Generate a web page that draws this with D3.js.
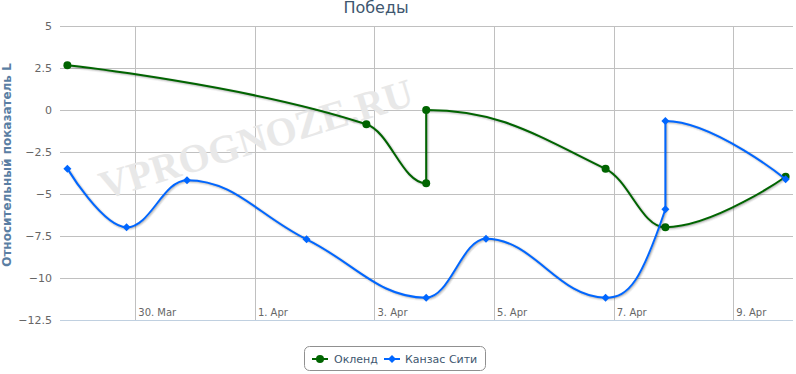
<!DOCTYPE html>
<html><head><meta charset="utf-8">
<script src="https://cdn.jsdelivr.net/npm/d3@7"></script>
<style>body{margin:0;background:#fff}svg{display:block;font-family:"DejaVu Sans",Verdana,sans-serif}</style>
</head><body><svg id="c" width="796" height="374"></svg>
<script>
const title = "Победы";
const yTitle = "Относительный показатель L";
const seriesNames = ["Окленд", "Канзас Сити"];
const seriesColors = ["#006400", "#0066ff"];
const oaklandDates = ["2019-03-28T20:45Z","2019-04-02T20:45Z","2019-04-03T20:45Z","2019-04-03T20:45Z","2019-04-06T20:45Z","2019-04-07T20:45Z","2019-04-09T21:00Z"];
const oaklandValues = [2.66, -0.85, -4.36, 0, -3.5, -6.98, -3.97];
const kcDates = ["2019-03-28T20:45Z","2019-03-29T20:30Z","2019-03-30T20:45Z","2019-04-01T20:45Z","2019-04-03T20:45Z","2019-04-04T20:45Z","2019-04-06T20:45Z","2019-04-07T20:45Z","2019-04-07T20:45Z","2019-04-09T21:00Z"];
const kcValues = [-3.49, -6.98, -4.18, -7.7, -11.17, -7.66, -11.17, -5.91, -0.65, -4.12];
const yTicks = [5, 2.5, 0, -2.5, -5, -7.5, -10, -12.5];
const xTicks = ["2019-03-30","2019-04-01","2019-04-03","2019-04-05","2019-04-07","2019-04-09"];
const xDomain = ["2019-03-28T17:47Z", "2019-04-09T23:58Z"];

const svg = d3.select("#c");
const L = 60, R = 793, T = 26, B = 320;
const x = d3.scaleUtc().domain(xDomain.map(d => new Date(d))).range([L, R]);
const y = d3.scaleLinear().domain([-12.5, 5]).range([B, T]);

// grid
const g = svg.append("g");
g.selectAll(".yg").data(yTicks.filter(v => v !== -12.5)).join("line")
  .attr("x1", L).attr("x2", R).attr("y1", d => Math.round(y(d)) + 0.5).attr("y2", d => Math.round(y(d)) + 0.5)
  .attr("stroke", "#c0c0c0").attr("stroke-width", 1);
g.selectAll(".xg").data(xTicks).join("line")
  .attr("x1", d => Math.round(x(new Date(d + "T00:00Z"))) + 0.5).attr("x2", d => Math.round(x(new Date(d + "T00:00Z"))) + 0.5)
  .attr("y1", T).attr("y2", B).attr("stroke", "#c0c0c0").attr("stroke-width", 1);
g.append("line").attr("x1", L).attr("x2", R).attr("y1", B + 0.5).attr("y2", B + 0.5).attr("stroke", "#c0d0e0");

// watermark
svg.append("text").attr("transform", "translate(260,152) rotate(-17)")
  .attr("text-anchor", "middle").attr("font-family", "Liberation Serif, serif").attr("font-weight", "bold")
  .attr("font-size", 40).attr("fill", "#e8e8e8").text("VPROGNOZE.RU");

// y labels
svg.append("g").selectAll("text").data(yTicks).join("text")
  .attr("x", 52).attr("y", d => y(d) + 4).attr("text-anchor", "end")
  .attr("font-size", 11).attr("fill", "#666").text(d => d3.format("")(d));
// x labels
const fmt = d3.utcFormat("%-d. %b");
svg.append("g").selectAll("text").data(xTicks).join("text")
  .attr("x", d => x(new Date(d + "T00:00Z")) + 3).attr("y", 316)
  .attr("font-size", 10).attr("fill", "#666").text(d => fmt(new Date(d + "T00:00Z")));

// titles
svg.append("text").attr("x", 376).attr("y", 12.5).attr("text-anchor", "middle")
  .attr("font-size", 16).attr("fill", "#3e576f").text(title);
svg.append("text").attr("transform", "translate(11,165) rotate(-90)").attr("text-anchor", "middle")
  .attr("font-size", 12).attr("font-weight", "bold").attr("fill", "#5a7ea3").text(yTitle);

// Highcharts-like spline
function splinePath(pts) {
  const p = d3.path(), s = 1.5, den = s + 1;
  let prevRX = null, prevRY = null;
  pts.forEach((pt, i) => {
    const last = pts[i - 1], next = pts[i + 1];
    let lcx = pt.x, lcy = pt.y, rcx = null, rcy = null;
    if (last && next) {
      lcx = (s * pt.x + last.x) / den; lcy = (s * pt.y + last.y) / den;
      rcx = (s * pt.x + next.x) / den; rcy = (s * pt.y + next.y) / den;
      let corr = 0;
      if (rcx !== lcx) corr = ((rcy - lcy) * (rcx - pt.x)) / (rcx - lcx) + pt.y - rcy;
      lcy += corr; rcy += corr;
      if (lcy > last.y && lcy > pt.y) { lcy = Math.max(last.y, pt.y); rcy = 2 * pt.y - lcy; }
      else if (lcy < last.y && lcy < pt.y) { lcy = Math.min(last.y, pt.y); rcy = 2 * pt.y - lcy; }
      if (rcy > next.y && rcy > pt.y) { rcy = Math.max(next.y, pt.y); lcy = 2 * pt.y - rcy; }
      else if (rcy < next.y && rcy < pt.y) { rcy = Math.min(next.y, pt.y); lcy = 2 * pt.y - rcy; }
    }
    if (i === 0) p.moveTo(pt.x, pt.y);
    else p.bezierCurveTo(prevRX ?? last.x, prevRY ?? last.y, lcx, lcy, pt.x, pt.y);
    prevRX = rcx; prevRY = rcy;
  });
  return p.toString();
}

const series = [
  { pts: oaklandDates.map((d, i) => ({ x: x(new Date(d)), y: y(oaklandValues[i]) })), color: seriesColors[0], sym: "circle" },
  { pts: kcDates.map((d, i) => ({ x: x(new Date(d)), y: y(kcValues[i]) })), color: seriesColors[1], sym: "diamond" }
];
function symbol(sel, type, cx, cy, r, color) {
  if (type === "circle") sel.append("circle").attr("cx", cx).attr("cy", cy).attr("r", r).attr("fill", color);
  else sel.append("path").attr("d", `M${cx},${cy - r}L${cx + r},${cy}L${cx},${cy + r}L${cx - r},${cy}Z`).attr("fill", color);
}
series.forEach(s => {
  const gs = svg.append("g");
  const d = splinePath(s.pts);
  for (let i = 1; i <= 3; i++) {
    gs.append("path").attr("d", d).attr("fill", "none").attr("stroke", "#000")
      .attr("stroke-opacity", 0.05 * i).attr("stroke-width", 7 - 2 * i).attr("transform", "translate(1,1)");
  }
  gs.append("path").attr("d", d).attr("fill", "none").attr("stroke", s.color).attr("stroke-width", 2);
  s.gs = gs;
});
series.forEach(s => s.pts.forEach(pt => symbol(s.gs, s.sym, pt.x, pt.y, 4, s.color)));

// legend
const lg = svg.append("g");
lg.append("rect").attr("x", 304.5).attr("y", 346.5).attr("width", 181).attr("height", 24).attr("rx", 5)
  .attr("fill", "none").attr("stroke", "#909090");
const items = [{ x0: 312, tx: 334 }, { x0: 384, tx: 405 }];
items.forEach((it, i) => {
  lg.append("line").attr("x1", it.x0).attr("x2", it.x0 + 16).attr("y1", 359).attr("y2", 359)
    .attr("stroke", seriesColors[i]).attr("stroke-width", 2);
  symbol(lg, series[i].sym, it.x0 + 8, 359, 4, seriesColors[i]);
  lg.append("text").attr("x", it.tx).attr("y", 363).attr("font-size", 11).attr("fill", "#3e576f").text(seriesNames[i]);
});
</script></body></html>
